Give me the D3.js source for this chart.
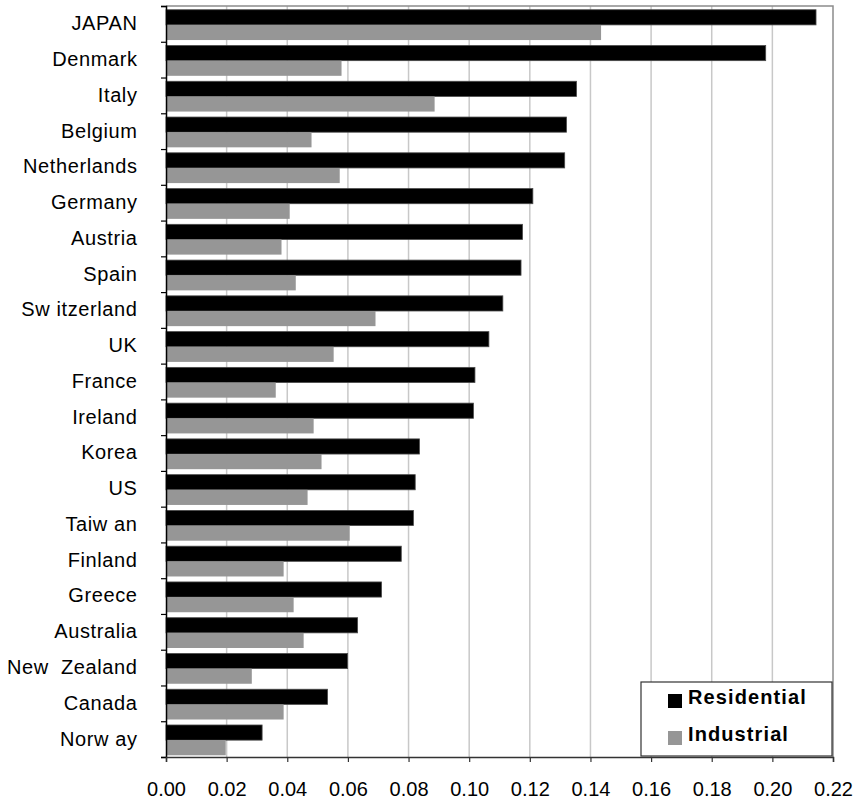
<!DOCTYPE html>
<html>
<head>
<meta charset="utf-8">
<script src="https://cdn.jsdelivr.net/npm/d3@7"></script>
<style>
  html, body { margin: 0; padding: 0; background: #fff; }
  svg { display: block; font-family: "Liberation Sans", Arial, sans-serif; }
  svg text { white-space: pre; }
</style>
</head>
<body>
<svg id="chart" width="866" height="800"></svg>
<script>
// Countries, top to bottom
const categories = [
  "JAPAN", "Denmark", "Italy", "Belgium", "Netherlands", "Germany", "Austria",
  "Spain", "Sw itzerland", "UK", "France", "Ireland", "Korea", "US", "Taiw an",
  "Finland", "Greece", "Australia", "New  Zealand", "Canada", "Norw ay"
];

// Electricity prices by sector
const residential = [
  0.2144, 0.1978, 0.1354, 0.1321, 0.1315, 0.1210, 0.1176,
  0.1171, 0.1111, 0.1065, 0.1019, 0.1014, 0.0836, 0.0822, 0.0816,
  0.0776, 0.0711, 0.0632, 0.0599, 0.0533, 0.0317
];
const industrial = [
  0.1435, 0.0579, 0.0886, 0.0480, 0.0573, 0.0408, 0.0381,
  0.0428, 0.0691, 0.0553, 0.0362, 0.0487, 0.0513, 0.0467, 0.0606,
  0.0388, 0.0421, 0.0454, 0.0283, 0.0388, 0.0197
];

const seriesNames = ["Residential", "Industrial"];
const seriesColors = ["#000000", "#969696"];
const xTicks = [0, 0.02, 0.04, 0.06, 0.08, 0.10, 0.12, 0.14, 0.16, 0.18, 0.20, 0.22];

const FONT = "'Liberation Sans', Arial, sans-serif";
const svg = d3.select("#chart");
const plot = { left: 166, right: 833, top: 6, bottom: 757 };

const x = d3.scaleLinear().domain([0, 0.22]).range([plot.left, plot.right]);
const y = d3.scaleBand().domain(categories).range([plot.top, plot.bottom]);
const bw = y.bandwidth();
const inner = d3.scaleBand().domain(seriesNames).range([bw * 0.105, bw * 0.952]);

const rows = categories.map((c, i) => ({ name: c, values: [residential[i], industrial[i]] }));

// vertical gridlines
svg.append("g")
  .selectAll("line")
  .data(xTicks.filter(t => t > 0 && t < 0.22))
  .join("line")
  .attr("x1", d => x(d)).attr("x2", d => x(d))
  .attr("y1", plot.top).attr("y2", plot.bottom)
  .attr("stroke", "#c8c8c8").attr("stroke-width", 1.5);

// top and right frame
svg.append("path")
  .attr("d", `M${plot.left},${plot.top}H${plot.right}V${plot.bottom}`)
  .attr("fill", "none").attr("stroke", "#8c8c8c").attr("stroke-width", 1.5);

// bars
const groups = svg.append("g")
  .selectAll("g")
  .data(rows)
  .join("g")
  .attr("transform", d => `translate(0,${y(d.name)})`);

groups.selectAll("rect")
  .data(d => d.values.map((v, k) => ({ key: seriesNames[k], value: v, k })))
  .join("rect")
  .attr("x", x(0))
  .attr("y", d => inner(d.key))
  .attr("width", d => x(d.value) - x(0))
  .attr("height", inner.bandwidth())
  .attr("fill", d => seriesColors[d.k])
  .attr("stroke", d => d.k === 0 ? "#4a4a4a" : "none")
  .attr("stroke-width", 0.8);

// category labels
const yAxis = svg.append("g")
  .attr("transform", `translate(${plot.left},0)`)
  .call(d3.axisLeft(y).tickSize(0).tickPadding(28.5));
yAxis.select(".domain").remove();
yAxis.attr("font-family", FONT);
yAxis.selectAll("text").attr("font-size", 20).attr("fill", "#000")
  .attr("letter-spacing", "0.6px");

// category boundary ticks
const yBounds = d3.scaleLinear().domain([0, categories.length]).range([plot.top, plot.bottom]);
const yTickAxis = svg.append("g")
  .attr("transform", `translate(${plot.left},0)`)
  .call(d3.axisLeft(yBounds).ticks(categories.length).tickSize(5).tickFormat(""));
yTickAxis.select(".domain").attr("stroke", "#000").attr("stroke-width", 1.5);
yTickAxis.selectAll(".tick line").attr("stroke", "#000").attr("stroke-width", 1.2);

// value axis
const xAxis = svg.append("g")
  .attr("transform", `translate(0,${plot.bottom})`)
  .call(d3.axisBottom(x).tickValues(xTicks).tickFormat(d3.format(".2f")).tickSize(5).tickPadding(20));
xAxis.attr("font-family", FONT);
xAxis.select(".domain").attr("stroke", "#333").attr("stroke-width", 1.5);
xAxis.selectAll(".tick line").attr("stroke", "#333").attr("stroke-width", 1.2);
xAxis.selectAll("text").attr("font-size", 20).attr("fill", "#000");

// legend
const legend = svg.append("g").attr("transform", "translate(641,682)").attr("font-family", FONT);
legend.append("rect")
  .attr("width", 191).attr("height", 74)
  .attr("fill", "#fff").attr("stroke", "#333").attr("stroke-width", 1.2);
const items = legend.selectAll("g.item")
  .data(seriesNames)
  .join("g")
  .attr("class", "item")
  .attr("transform", (d, i) => `translate(0,${i === 0 ? 22 : 59})`);
items.append("rect")
  .attr("x", 27).attr("y", -10).attr("width", 14).attr("height", 14)
  .attr("fill", (d, i) => seriesColors[i]);
items.append("text")
  .attr("x", 47).attr("y", 0)
  .attr("font-size", 20).attr("font-weight", "bold")
  .attr("letter-spacing", "1.1px")
  .attr("fill", "#000")
  .text(d => d);
</script>
</body>
</html>
